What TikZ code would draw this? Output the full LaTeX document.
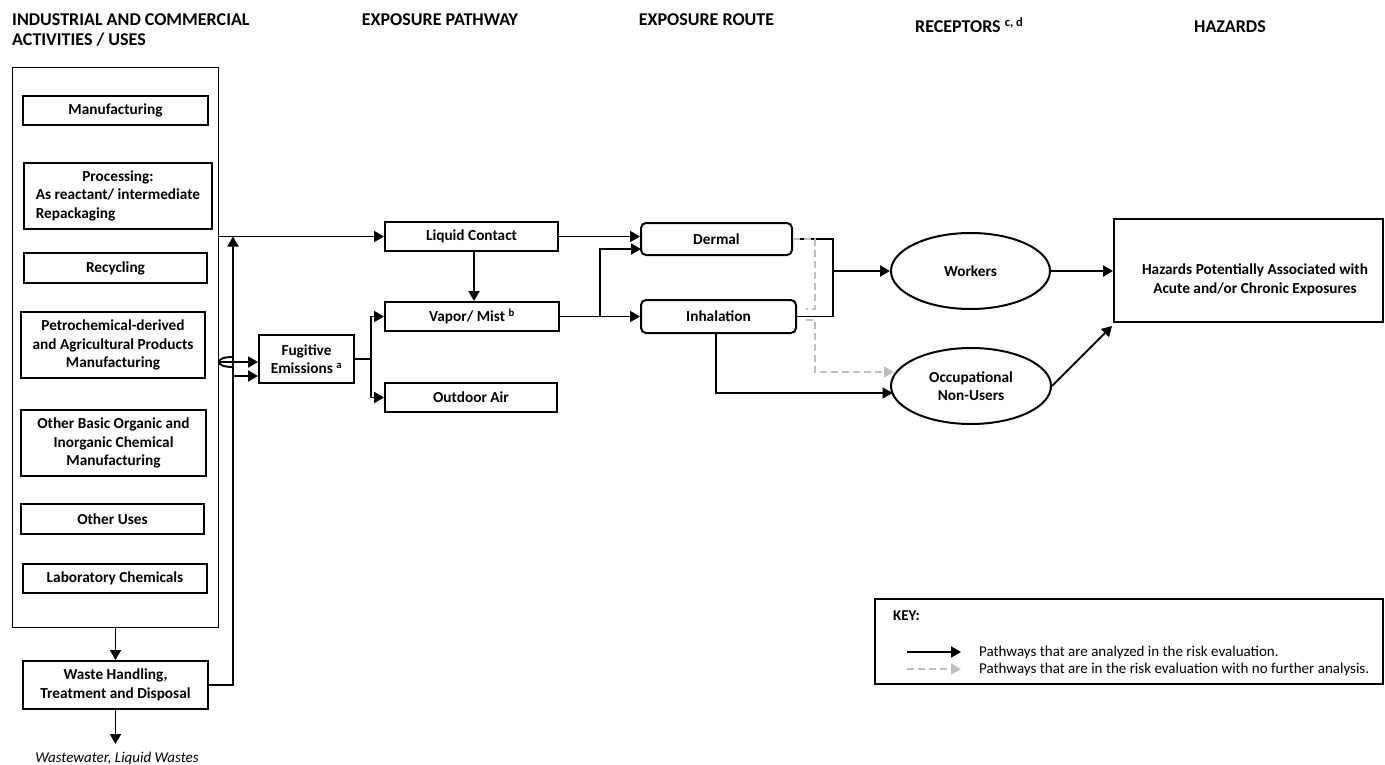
\documentclass[tikz,border=0pt]{standalone}
\usepackage{fontspec}
\setmainfont{Carlito}
\usetikzlibrary{arrows.meta,shapes.geometric}
\newcommand\hdfont{\fontsize{18}{19.5}\selectfont\bfseries}
\newcommand\bxfont{\fontsize{15.3}{18.5}\selectfont\bfseries}
\newcommand\kyfont{\fontsize{15}{17}\selectfont}
\definecolor{dgray}{RGB}{190,190,190}
\tikzset{
 box/.style={draw, line width=2pt, inner sep=0pt, align=center, font=\bxfont},
 rbox/.style={box, rounded corners=5pt},
 ell/.style={draw, ellipse, line width=2pt, inner sep=0pt, align=center, font=\bxfont},
 arr/.style={line width=1.9pt, -{Triangle[length=10pt,width=11pt]}},
 ln/.style={line width=1.9pt},
 darr/.style={line width=1.9pt, draw=dgray, dash pattern=on 7pt off 4pt, -{Triangle[length=10pt,width=11pt]}},
 dln/.style={line width=1.9pt, draw=dgray, dash pattern=on 7pt off 4pt},
 head/.style={font=\hdfont, inner sep=0pt},
}
\begin{document}
\begin{tikzpicture}[x=1pt,y=-1pt]
\useasboundingbox (0,0) rectangle (1385,765);
% headers
\node[head, anchor=north west, align=left] (h1) at (12,13.5) {INDUSTRIAL AND COMMERCIAL\\ACTIVITIES / USES};
\node[head, anchor=base] (h2) at (440,25.7) {EXPOSURE PATHWAY};
\node[head, anchor=base] (h3) at (706.5,25.7) {EXPOSURE ROUTE};
\node[head, anchor=base west] (h4) at (915,32.7) {RECEPTORS \textsuperscript{c, d}};
\node[head, anchor=base] (h5) at (1230,32.7) {HAZARDS};

% left column
\node[draw, line width=1pt, minimum width=206pt, minimum height=559pt, inner sep=0pt] (outer) at (115,347.5) {};
\node[box, minimum width=185pt, minimum height=29pt] (manu) at (115.5,110.5) {Manufacturing};
\node[box, minimum width=188pt, minimum height=66pt] (proc) at (118,196) {\begin{tabular}{@{}l@{}}\multicolumn{1}{@{}c@{}}{Processing:}\\As reactant/ intermediate\\Repackaging\end{tabular}};
\node[box, minimum width=183pt, minimum height=30pt] (recy) at (115.5,268) {Recycling};
\node[box, minimum width=184pt, minimum height=66pt] (petro) at (113,345) {Petrochemical-derived\\and Agricultural Products\\Manufacturing};
\node[box, minimum width=185pt, minimum height=66pt] (obasic) at (113.5,443) {Other Basic Organic and\\Inorganic Chemical\\Manufacturing};
\node[box, minimum width=183pt, minimum height=30pt] (ouses) at (112.5,519) {Other Uses};
\node[box, minimum width=184pt, minimum height=29pt] (lab) at (115,578.5) {Laboratory Chemicals};
\node[box, minimum width=185pt, minimum height=48pt] (waste) at (115.5,685) {Waste Handling,\\Treatment and Disposal};
\node[font=\fontsize{15}{18}\selectfont\itshape, inner sep=0pt, anchor=base] (ww) at (117,762.5) {Wastewater, Liquid Wastes};
\coordinate (wwin) at (115.5,744);
\draw[arr] (outer.south -| waste.north) -- (waste.north);
\draw[arr] (waste.south) -- (wwin);

% middle boxes
\node[box, minimum width=95pt, minimum height=48pt] (fug) at (306.5,359) {Fugitive\\Emissions \textsuperscript{a}};
\node[box, minimum width=173pt, minimum height=29pt] (liq) at (471.5,236.5) {Liquid Contact};
\node[box, minimum width=174pt, minimum height=29pt] (vap) at (472,316.5) {Vapor/ Mist \textsuperscript{b}};
\node[box, minimum width=172pt, minimum height=29pt] (oair) at (471,397.5) {Outdoor Air};

% left connectors
\coordinate (upend) at (233,236.5);
\draw[arr] (waste.east) -| (upend);
\draw[arr] (liq.west -| outer.east) -- (liq.west);
\coordinate (jl) at (219,362);
\draw[ln] (233,357) .. controls (224,357) and (219,359) .. (219,362) .. controls (219,365) and (224,367) .. (233,367);
\draw[arr] (jl) -- (jl -| fug.west);
\coordinate (jt) at (233,376);
\draw[arr] (jt) -- (jt -| fug.west);

\coordinate (fb) at (371,359);
\draw[ln] (fug.east) -- (fb);
\draw[arr] (fb) |- (vap.west);
\draw[arr] (fb) |- (oair.west);
\coordinate (lx) at (474,0);
\draw[arr] (liq.south -| lx) -- (vap.north -| lx);

% routes
\node[rbox, minimum width=151pt, minimum height=32pt] (derm) at (716.5,239) {Dermal};
\node[rbox, minimum width=155pt, minimum height=33pt] (inh) at (718.5,316.5) {Inhalation};
\draw[arr] (liq.east) -- (liq.east -| derm.west);
\draw[arr] (vap.east) -- (vap.east -| inh.west);
\coordinate (vb) at (600,316.5);
\coordinate (din) at (641,249);
\draw[arr] (vb) |- (din);

% receptors
\node[ell, minimum width=159pt, minimum height=76pt] (wk) at (970.5,271) {Workers};
\node[ell, minimum width=160pt, minimum height=76pt] (occ) at (971,386) {Occupational\\Non-Users};

\coordinate (rb) at (833,271);
\draw[ln] (derm.east) -| (rb) |- (inh.east);
\draw[arr] (rb) -- (rb -| wk.west);

\coordinate (ib) at (716,393);
\coordinate (oin) at (892.5,393);
\draw[arr] (inh.south -| ib) -- (ib) -- (oin);

\coordinate (dx1) at (815,309);
\coordinate (dh) at (806,309);
\draw[dln] (derm.east) -| (dx1) -- (dh);
\coordinate (ds) at (806,320);
\coordinate (dx2) at (815,372);
\coordinate (doin) at (894,372);
\draw[darr] (ds) -| (dx2) -- (doin);

% hazards
\node[draw, line width=2pt, minimum width=269pt, minimum height=103pt, inner sep=0pt] (haz) at (1248.5,270.5) {};
\node[font=\bxfont, align=center, inner sep=0pt] (haztxt) at (1255,280) {Hazards Potentially Associated with\\Acute and/or Chronic Exposures};
\draw[arr] (wk.east) -- (wk.east -| haz.west);
\coordinate (hin) at (1112,326);
\draw[arr] (occ.east) -- (hin);

% key
\node[draw, line width=2pt, minimum width=508pt, minimum height=85pt, inner sep=0pt] (key) at (1129,641.5) {};
\node[font=\kyfont\bfseries, anchor=base west, inner sep=0pt] (keyt) at (893,620.5) {KEY:};
\coordinate (k1) at (907,652);
\coordinate (k2) at (961,652);
\draw[arr] (k1) -- (k2);
\node[font=\kyfont, anchor=base west, inner sep=0pt] (kt1) at (979,656.5) {Pathways that are analyzed in the risk evaluation.};
\coordinate (k3) at (907,669);
\coordinate (k4) at (961,669);
\draw[darr] (k3) -- (k4);
\node[font=\kyfont, anchor=base west, inner sep=0pt] (kt2) at (979,673.5) {Pathways that are in the risk evaluation with no further analysis.};
\end{tikzpicture}
\end{document}
